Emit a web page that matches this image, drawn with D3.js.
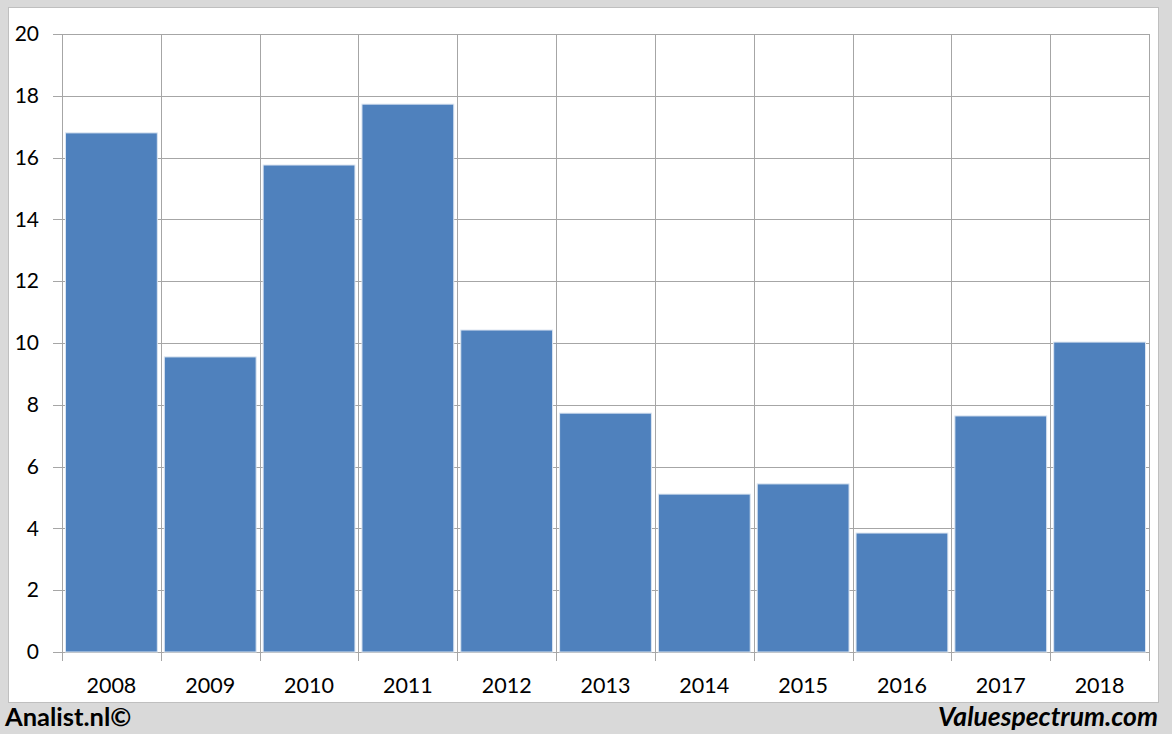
<!DOCTYPE html>
<html><head><meta charset="utf-8">
<script src="https://cdn.jsdelivr.net/npm/d3@7"></script>
<style>html,body{margin:0;padding:0;background:#d9d9d9;}svg{display:block;}</style>
</head><body>
<svg id="c" width="1172" height="734"></svg>
<script>
const years = ["2008","2009","2010","2011","2012","2013","2014","2015","2016","2017","2018"];
const values = [16.8, 9.55, 15.76, 17.73, 10.42, 7.73, 5.11, 5.44, 3.85, 7.64, 10.03];
const yTicks = [0,2,4,6,8,10,12,14,16,18,20];

const svg = d3.select("#c");
svg.append("rect").attr("x",0).attr("y",0).attr("width",1172).attr("height",734).attr("fill","#d9d9d9");
svg.append("rect").attr("x",8.5).attr("y",7.5).attr("width",1150).attr("height",695)
  .attr("fill","#ffffff").attr("stroke","#bfbfbf").attr("stroke-width",1);

const L=62, R=1149, T=34, B=652;
const x = d3.scaleBand().domain(years).range([L,R]).paddingInner(0).paddingOuter(0);
const y = d3.scaleLinear().domain([0,20]).range([B,T]);
const grid = "#a6a6a6";
const font = "Lato, 'Open Sans', sans-serif";

// horizontal gridlines + y ticks
const ya = d3.axisLeft(y).tickValues(yTicks).tickSize(-(R-L)).tickPadding(14).tickFormat(d3.format("d"));
const gy = svg.append("g").attr("transform",`translate(${L},0)`).call(ya);
gy.select(".domain").remove();
gy.selectAll(".tick line").attr("stroke",grid).attr("x1",-9).attr("shape-rendering","crispEdges");
gy.selectAll(".tick text").attr("font-family",font).attr("font-size",21).attr("fill","#000").attr("x",-23);

// vertical gridlines at band edges
const edges = years.map(d=>x(d)).concat([R]);
svg.append("g").selectAll("line").data(edges).join("line")
  .attr("x1",d=>Math.round(d)+0.5).attr("x2",d=>Math.round(d)+0.5)
  .attr("y1",T).attr("y2",B+9).attr("stroke",grid).attr("stroke-width",1);

// bars
svg.append("g").selectAll("rect").data(values).join("rect")
  .attr("x",(d,i)=>x(years[i])+3.5)
  .attr("width",x.bandwidth()-7)
  .attr("y",d=>y(d))
  .attr("height",d=>B-y(d))
  .attr("fill","#4f81bd").attr("stroke","#dbe5f1").attr("stroke-width",1);

// x labels
svg.append("g").selectAll("text").data(years).join("text")
  .attr("x",d=>x(d)+x.bandwidth()/2).attr("y",693)
  .attr("text-anchor","middle").attr("font-family",font).attr("font-size",21.5).attr("fill","#000")
  .text(d=>d);

// footer
svg.append("text").attr("x",5).attr("y",726).attr("font-family",font).attr("font-weight","bold")
  .attr("font-size",25.5).attr("fill","#000").text("Analist.nl©");
svg.append("text").attr("x",1158).attr("y",726).attr("text-anchor","end").attr("font-family",font)
  .attr("font-weight","bold").attr("font-style","italic").attr("font-size",26.5).attr("fill","#000").text("Valuespectrum.com");
</script>
</body></html>
